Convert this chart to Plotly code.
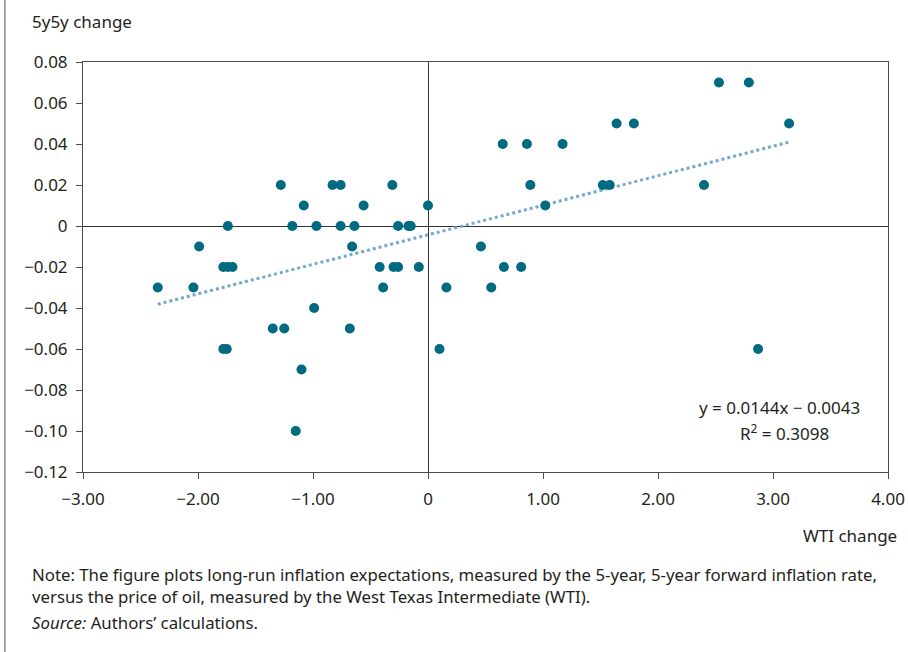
import plotly.graph_objects as go

# Data
wti_change = [
    2.53, 2.79,
    1.64, 1.79, 3.14,
    0.65, 0.86, 1.17,
    -1.28, -0.83, -0.76, -0.31, 0.89, 1.52, 1.58, 2.40,
    -1.08, -0.56, 0.00, 1.02,
    -1.74, -1.18, -0.97, -0.76, -0.64, -0.26, -0.17, -0.15,
    -1.99, -0.66, 0.46,
    -1.78, -1.74, -1.70, -0.42, -0.30, -0.26, -0.08, 0.66, 0.81,
    -2.35, -2.04, -0.39, 0.16, 0.55,
    -0.99,
    -1.35, -1.25, -0.68,
    -1.78, -1.75, 0.10, 2.87,
    -1.10,
    -1.15,
]
y5y5_change = [
    0.07, 0.07,
    0.05, 0.05, 0.05,
    0.04, 0.04, 0.04,
    0.02, 0.02, 0.02, 0.02, 0.02, 0.02, 0.02, 0.02,
    0.01, 0.01, 0.01, 0.01,
    0.0, 0.0, 0.0, 0.0, 0.0, 0.0, 0.0, 0.0,
    -0.01, -0.01, -0.01,
    -0.02, -0.02, -0.02, -0.02, -0.02, -0.02, -0.02, -0.02, -0.02,
    -0.03, -0.03, -0.03, -0.03, -0.03,
    -0.04,
    -0.05, -0.05, -0.05,
    -0.06, -0.06, -0.06, -0.06,
    -0.07,
    -0.10,
]
trend_slope = 0.0144
trend_intercept = -0.0043
r_squared = 0.3098

x_tickvals = [-3, -2, -1, 0, 1, 2, 3, 4]
x_ticktext = ["\u22123.00", "\u22122.00", "\u22121.00", "0", "1.00", "2.00", "3.00", "4.00"]
y_tickvals = [0.08, 0.06, 0.04, 0.02, 0, -0.02, -0.04, -0.06, -0.08, -0.10, -0.12]
y_ticktext = ["0.08", "0.06", "0.04", "0.02", "0", "\u22120.02", "\u22120.04", "\u22120.06",
              "\u22120.08", "\u22120.10", "\u22120.12"]

FONT = "Noto Sans"
TEXT = "#231f20"

x_lo, x_hi = min(wti_change), max(wti_change)
trend_x = [x_lo, x_hi]
trend_y = [trend_slope * v + trend_intercept for v in trend_x]

fig = go.Figure()
fig.add_trace(go.Scatter(
    x=trend_x, y=trend_y, mode="lines",
    line=dict(color="#74a9cf", width=3, dash="dot"),
    hoverinfo="skip", showlegend=False,
))
fig.add_trace(go.Scatter(
    x=wti_change, y=y5y5_change, mode="markers",
    marker=dict(color="#006a80", size=10, line=dict(width=0)),
    showlegend=False,
))

axis_common = dict(
    showgrid=False, showline=True, linecolor="#4d4d4d", linewidth=1, mirror=True,
    ticks="outside", ticklen=6, tickcolor="#4d4d4d",
    zeroline=True, zerolinecolor="#333333", zerolinewidth=1,
    tickfont=dict(family=FONT, size=17, color=TEXT),
    automargin=False,
)
fig.update_xaxes(range=[-3, 4], tickvals=x_tickvals, ticktext=x_ticktext,
                 ticklabelstandoff=6, **axis_common)
fig.update_yaxes(range=[-0.12, 0.08], tickvals=y_tickvals, ticktext=y_ticktext,
                 ticklabelstandoff=5, **axis_common)

eq_line1 = f"y = {trend_slope}x \u2212 {abs(trend_intercept)}"
eq_line2 = f"R<sup>2</sup> = {r_squared}"

annotations = [
    dict(text="5y5y change", xref="paper", yref="paper", x=-0.0658, y=1.0976,
         xanchor="left", yanchor="middle", showarrow=False,
         font=dict(family=FONT, size=17, color=TEXT)),
    dict(text="WTI change", xref="paper", yref="paper", x=1.0137, y=-0.1537,
         xanchor="right", yanchor="middle", showarrow=False,
         font=dict(family=FONT, size=17, color=TEXT)),
    dict(text=eq_line1, x=3.057, y=-0.0883, xref="x", yref="y",
         xanchor="center", yanchor="middle", showarrow=False,
         font=dict(family=FONT, size=17, color=TEXT)),
    dict(text=eq_line2, x=3.096, y=-0.1008, xref="x", yref="y",
         xanchor="center", yanchor="middle", showarrow=False,
         font=dict(family=FONT, size=17, color=TEXT)),
    dict(text="Note: The figure plots long-run inflation expectations, measured by the 5-year, 5-year forward inflation rate,<br>"
              "versus the price of oil, measured by the West Texas Intermediate (WTI).",
         xref="paper", yref="paper", x=-0.0658, y=-0.277, xanchor="left", yanchor="middle",
         align="left", showarrow=False, font=dict(family=FONT, size=16.8, color=TEXT)),
    dict(text="<i>Source:</i> Authors\u2019 calculations.",
         xref="paper", yref="paper", x=-0.0658, y=-0.368, xanchor="left", yanchor="middle",
         align="left", showarrow=False, font=dict(family=FONT, size=16.8, color=TEXT)),
]

fig.update_layout(
    width=908, height=652,
    margin=dict(l=83, r=20, t=62, b=180),
    paper_bgcolor="white", plot_bgcolor="white",
    annotations=annotations,
    shapes=[dict(type="line", xref="paper", yref="paper", x0=-0.097, x1=-0.097,
                 y0=-0.45, y1=1.16, line=dict(color="#4d4d4d", width=1))],
)

fig.write_html("out.html", config={"displayModeBar": False},
               post_script="document.body.style.margin='0';")
